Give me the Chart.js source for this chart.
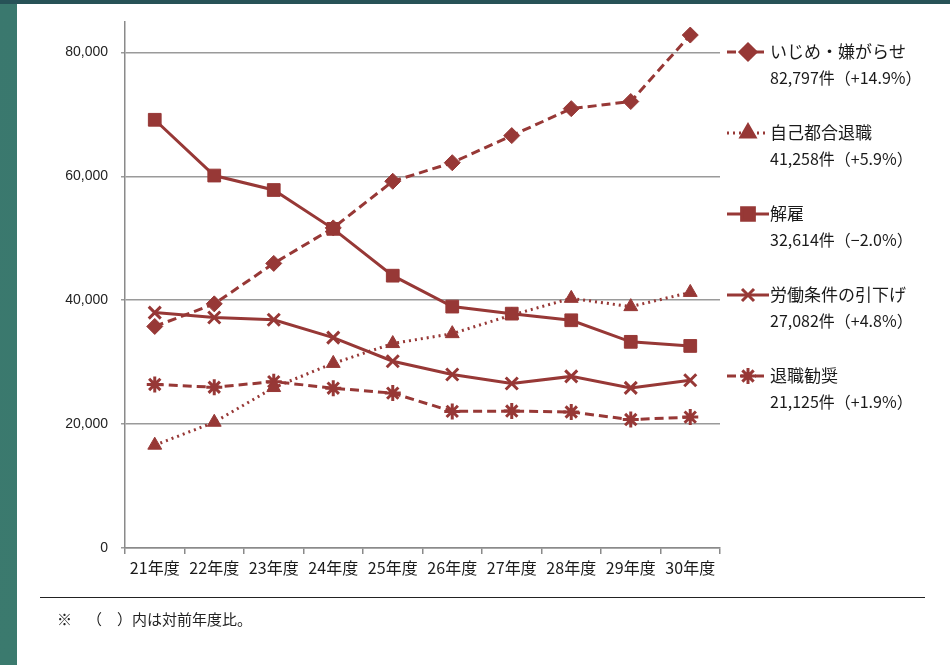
<!DOCTYPE html>
<html><head><meta charset="utf-8">
<script src="https://cdn.jsdelivr.net/npm/chart.js@4"></script>
<style>
html,body{margin:0;padding:0;width:950px;height:665px;overflow:hidden;}
body{background:linear-gradient(180deg,#275257 0,#275257 4px,#3a786e 4px,#3b7a6e 100%);}
#panel{position:absolute;left:17px;top:4px;width:933px;height:661px;background:#fff;}
#wrap{position:absolute;left:0;top:0;width:950px;height:665px;}
#rule{position:absolute;left:40px;top:597px;width:885px;height:0;border-top:1.5px solid #222;}
#note{position:absolute;left:57px;top:608px;font:15px "Noto Sans CJK JP",sans-serif;color:#222;white-space:pre;text-spacing-trim:space-all;}
</style></head>
<body>
<div id="panel"></div>
<div id="wrap"><canvas id="c" width="950" height="665"></canvas></div>
<div id="rule"></div>
<div id="note">※　（　）内は対前年度比。</div>
<script>
// ---- data ----
const categories = ['21年度','22年度','23年度','24年度','25年度','26年度','27年度','28年度','29年度','30年度'];
const ijime        = [35759,39405,45939,51670,59197,62191,66566,70917,72067,82797];
const jikoTaishoku = [16600,20300,25900,29800,33000,34600,37600,40300,38960,41258];
const kaiko        = [69121,60118,57785,51515,43956,38966,37828,36760,33280,32614];
const hikisage     = [38000,37200,36850,33950,30150,28000,26550,27700,25840,27082];
const kankou       = [26400,25950,26850,25800,25000,22050,22100,21950,20730,21125];
const seriesNames  = ['いじめ・嫌がらせ','自己都合退職','解雇','労働条件の引下げ','退職勧奨'];
const seriesTotals = ['82,797件（+14.9%）','41,258件（+5.9%）','32,614件（−2.0%）','27,082件（+4.8%）','21,125件（+1.9%）'];
const yTicks = [0,20000,40000,60000,80000];

const RED = '#973836';
const FONT = '"Noto Sans CJK JP", sans-serif';

function ds(label, data, style, radius, dash, cap, pbw){
  return {label, data, borderColor:RED, backgroundColor:RED, borderWidth:3,
    borderDash:dash, borderCapStyle:cap, pointStyle:style, pointRadius:radius,
    pointBorderWidth:pbw, pointBackgroundColor:RED, pointBorderColor:RED,
    tension:0, fill:false};
}

const datasets = [
  ds(seriesNames[0], ijime, 'rectRot', 8, [9,5], 'butt', 1),
  ds(seriesNames[1], jikoTaishoku, 'triangle', 8, [2,4], 'butt', 1),
  ds(seriesNames[2], kaiko, 'rect', 9, [], 'butt', 1),
  ds(seriesNames[3], hikisage, 'crossRot', 8.5, [], 'butt', 3),
  ds(seriesNames[4], kankou, 'star', 8, [9,5], 'butt', 3),
];

const sideLegend = {
  id:'sideLegend',
  afterDraw(chart){
    const ctx = chart.ctx;
    chart.data.datasets.forEach((d,i)=>{
      const y = 52 + i*81;
      ctx.save();
      ctx.strokeStyle = d.borderColor; ctx.lineWidth = d.borderWidth;
      ctx.setLineDash(d.borderDash||[]); ctx.lineCap = d.borderCapStyle;
      ctx.beginPath(); ctx.moveTo(727,y); ctx.lineTo(769,y); ctx.stroke();
      ctx.setLineDash([]);
      ctx.fillStyle = RED; ctx.strokeStyle = RED;
      Chart.helpers.drawPoint(ctx,{pointStyle:d.pointStyle,radius:d.pointRadius,borderWidth:d.pointBorderWidth,rotation:0},748,y);
      ctx.fillStyle = '#1a1a1a';
      ctx.textBaseline = 'middle'; ctx.textAlign = 'left';
      ctx.font = '17px ' + FONT;
      ctx.fillText(seriesNames[i], 770, y);
      ctx.font = '16px ' + FONT;
      ctx.fillText(seriesTotals[i], 770, y + 26);
      ctx.restore();
    });
  }
};

new Chart(document.getElementById('c'), {
  type:'line',
  data:{labels:categories, datasets},
  options:{
    responsive:false, devicePixelRatio:1, animation:false,
    layout:{padding:{left:0, top:20, right:230, bottom:0}},
    plugins:{legend:{display:false}, tooltip:{enabled:false}},
    scales:{
      x:{
        offset:true,
        grid:{display:true, drawOnChartArea:false, offset:true, tickLength:6, color:'#8a8a8a', lineWidth:1.5},
        border:{color:'#8a8a8a', width:1.5},
        ticks:{color:'#1a1a1a', font:{family:FONT, size:16}, padding:4, maxRotation:0, autoSkip:false},
        afterFit(s){ s.height = 665 - 548; }
      },
      y:{
        min:0, max:85000,
        grid:{color:'#9a9a9a', lineWidth:1.5, tickLength:4},
        border:{color:'#8a8a8a', width:1.5},
        ticks:{color:'#222', font:{family:'"Liberation Sans", Arial, sans-serif', size:14}, padding:13,
          callback:(v)=>v.toLocaleString('en-US')},
        afterBuildTicks(s){ s.ticks = yTicks.map(v=>({value:v})); },
        afterFit(s){ s.width = 125; }
      }
    }
  },
  plugins:[sideLegend]
});
</script>
</body></html>
